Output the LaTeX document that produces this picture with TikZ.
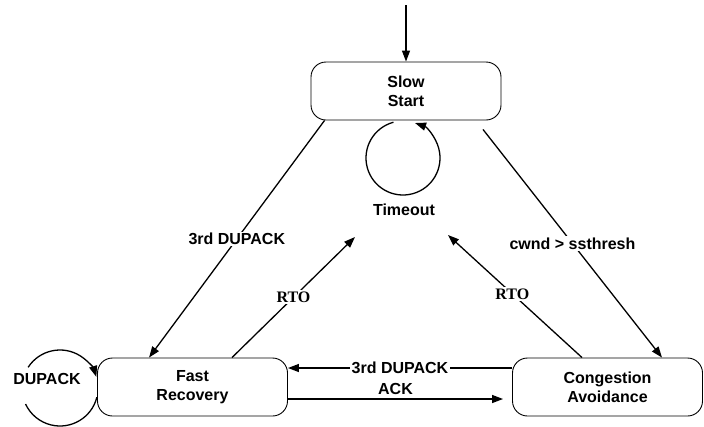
\documentclass[tikz,border=0pt]{standalone}
\usepackage{fontspec}
\setmainfont{Liberation Sans}
\newfontfamily\serifbf{Liberation Serif}
\usetikzlibrary{arrows.meta,calc}
\begin{document}
\begin{tikzpicture}[x=1pt,y=-1pt,
  state/.style={draw, line width=0.9pt, rounded corners=15pt, minimum width=190pt,
    minimum height=58pt, align=center, font=\fontsize{16}{19}\selectfont\bfseries, inner sep=0pt},
  conn/.style={line width=1.3pt, -{Triangle[length=11pt,width=8pt]}},
  plain/.style={line width=1.3pt},
  lbl/.style={font=\fontsize{16}{19}\selectfont\bfseries, fill=white, inner sep=1.5pt},
  rto/.style={font=\fontsize{16}{19}\selectfont\serifbf\bfseries, fill=white, inner sep=1.5pt}]
\useasboundingbox (0,0) rectangle (704,426);

% states
\node[state] (ss) at (406,91) {Slow\\Start};
\node[state] (fr) at (192.5,387) {Fast\\Recovery};
\node[state] (ca) at (607.5,387) {Congestion\\Avoidance};
\node[font=\fontsize{16}{19}\selectfont\bfseries, inner sep=0pt] (to) at (404,210) {Timeout};
\node[font=\fontsize{16}{19}\selectfont\bfseries, inner sep=0pt] (dup) at (47,379) {DUPACK};

% entry arrow
\coordinate (entry) at (406,5);
\draw[conn] (entry) -- (ss.north);

% timeout self loop on Slow Start
\coordinate (tc) at (403,158);
\draw[conn] ($(tc)+(-105:37)$) arc[start angle=-105, end angle=-431, radius=37];

% DUPACK self loop on Fast Recovery
\coordinate (dc) at (60,388);
\draw[conn] ($(dc)+(-147:38)$) arc[start angle=-147, end angle=-17, radius=38];
\draw[plain] ($(dc)+(14:38)$) arc[start angle=14, end angle=155, radius=38];

% Slow Start -> Fast Recovery
\draw[conn] ($(ss.south west)+(14,0)$) -- node[lbl, pos=0.5] {3rd DUPACK} ($(fr.north west)+(52,0)$);

% Slow Start -> Congestion Avoidance
\draw[conn] ($(ss.south)+(77,9)$) -- node[lbl, pos=0.5] {cwnd > ssthresh} ($(ca.north)+(54.5,0)$);

% RTO transitions towards Timeout
\coordinate (t1) at (355,237);
\coordinate (t2) at (448,235);
\draw[conn] ($(fr.north)+(39.5,0)$) -- node[rto, pos=0.5] {RTO} (t1);
\draw[conn] ($(ca.north)+(-25.5,0)$) -- node[rto, pos=0.52] {RTO} (t2);

% horizontal transitions
\draw[conn] ($(ca.west)+(0,-19)$) -- node[lbl, pos=0.5] {3rd DUPACK} ($(fr.east)+(0,-19)$);
\draw[conn, shorten >=9pt] ($(fr.east)+(0,12)$) -- node[pos=0.48, above=4pt, inner sep=0pt, font=\fontsize{16}{19}\selectfont\bfseries] {ACK} ($(ca.west)+(0,12)$);
\end{tikzpicture}
\end{document}
